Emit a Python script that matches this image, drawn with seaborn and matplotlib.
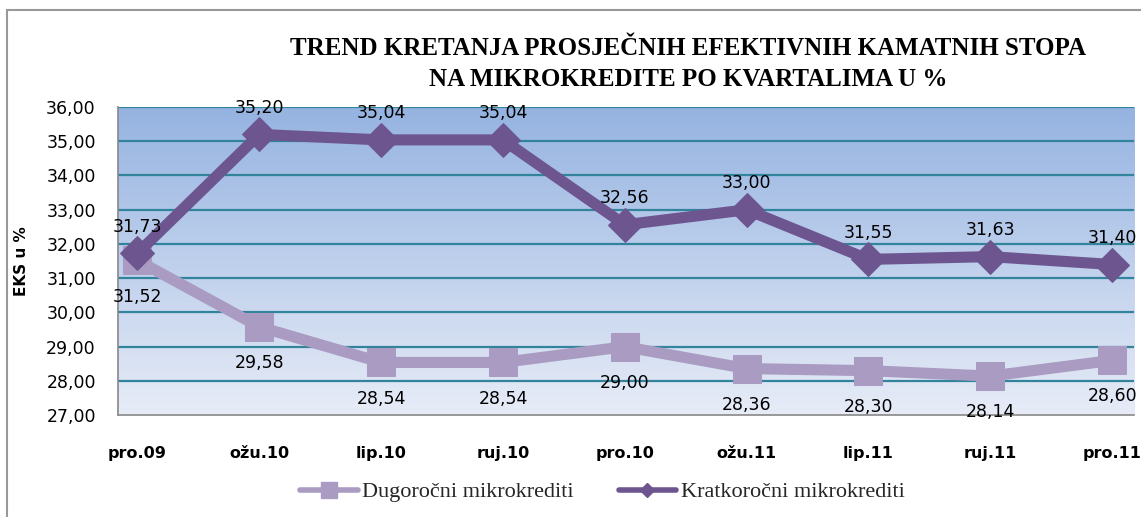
import numpy as np
import pandas as pd
import matplotlib
matplotlib.use("Agg")
import matplotlib.pyplot as plt
import seaborn as sns
from matplotlib.lines import Line2D
from matplotlib.colors import LinearSegmentedColormap

categories = ["pro.09", "ožu.10", "lip.10", "ruj.10", "pro.10", "ožu.11", "lip.11", "ruj.11", "pro.11"]
dugorocni = [31.52, 29.58, 28.54, 28.54, 29.00, 28.36, 28.30, 28.14, 28.60]
kratkorocni = [31.73, 35.20, 35.04, 35.04, 32.56, 33.00, 31.55, 31.63, 31.40]
series_names = ["Dugoročni mikrokrediti", "Kratkoročni mikrokrediti"]
title = "TREND KRETANJA PROSJEČNIH EFEKTIVNIH KAMATNIH STOPA\nNA MIKROKREDITE PO KVARTALIMA U %"
ylabel = "EKS u %"

sns.set_theme(style="white")
plt.rcParams['font.family'] = ['DejaVu Sans']

c_dug = "#a99bc1"
c_kra = "#6d5690"
grid_c = "#31849b"

fig = plt.figure(figsize=(11.41, 5.17), dpi=100)
ax = fig.add_axes([0.1034, 0.197, 0.8905, 0.596])

grad = np.linspace(0, 1, 256).reshape(-1, 1)
cmap = LinearSegmentedColormap.from_list("bg", ["#95b3e1", "#e7ecf7"])
ax.imshow(grad, extent=[0, 1, 0, 1], transform=ax.transAxes, cmap=cmap,
          aspect="auto", zorder=0, origin="upper")

x = np.arange(len(categories))
df = pd.DataFrame({
    "x": np.concatenate([x, x]),
    "val": dugorocni + kratkorocni,
    "serie": [series_names[0]] * len(x) + [series_names[1]] * len(x),
})

sns.lineplot(data=df[df.serie == series_names[0]], x="x", y="val", ax=ax,
             color=c_dug, linewidth=8, marker="s", markersize=20,
             markeredgecolor=c_dug, zorder=3, legend=False)
sns.lineplot(data=df[df.serie == series_names[1]], x="x", y="val", ax=ax,
             color=c_kra, linewidth=8, marker="D", markersize=17,
             markeredgecolor=c_kra, zorder=4, legend=False)

ax.set_ylim(27, 36)
ax.set_xlim(-0.16, 8.18)
ax.set_yticks(range(27, 37))
ax.set_yticklabels([f"{v:.2f}".replace(".", ",") for v in range(27, 37)],
                   fontsize=12.5, color="black")
ax.set_xticks(x)
ax.set_xticklabels(categories, fontsize=11.5, fontweight="bold", color="black")
ax.tick_params(axis="x", pad=22, length=0)
ax.tick_params(axis="y", pad=16, length=0)
for v in range(28, 37):
    ax.axhline(v, color=grid_c, linewidth=1.6, zorder=1)
for s in ["top", "right"]:
    ax.spines[s].set_visible(False)
for s in ["left", "bottom"]:
    ax.spines[s].set_color("#888888")
    ax.spines[s].set_linewidth(1.2)
ax.set_xlabel("")
ax.set_ylabel(ylabel, fontsize=11, fontweight="bold", labelpad=12, color="black")

for i, v in enumerate(dugorocni):
    ax.annotate(f"{v:.2f}".replace(".", ","), (i, v), xytext=(0, -26),
                textcoords="offset points", ha="center", va="center",
                fontsize=12.5, color="black", zorder=6)
for i, v in enumerate(kratkorocni):
    ax.annotate(f"{v:.2f}".replace(".", ","), (i, v), xytext=(0, 19),
                textcoords="offset points", ha="center", va="center",
                fontsize=12.5, color="black", zorder=6)

fig.text(0.603, 0.877, title, ha="center", va="center", fontsize=18,
         fontweight="bold", family="Liberation Serif", linespacing=1.45,
         color="black")

handles = [
    Line2D([0], [0], color=c_dug, lw=4, marker="s", markersize=12),
    Line2D([0], [0], color=c_kra, lw=4, marker="D", markersize=7),
]
fig.legend(handles, series_names, loc="center", bbox_to_anchor=(0.528, 0.048),
           ncol=2, frameon=False,
           prop={"family": "Liberation Serif", "size": 16},
           handlelength=2.6, columnspacing=2.0, handletextpad=0.2)

fig.add_artist(plt.Line2D([0.006, 0.006], [0.0, 0.98], color="#999999", lw=1.5,
                          transform=fig.transFigure))
fig.add_artist(plt.Line2D([0.006, 1.0], [0.98, 0.98], color="#999999", lw=1.5,
                          transform=fig.transFigure))

fig.savefig("out.png", dpi=100)
